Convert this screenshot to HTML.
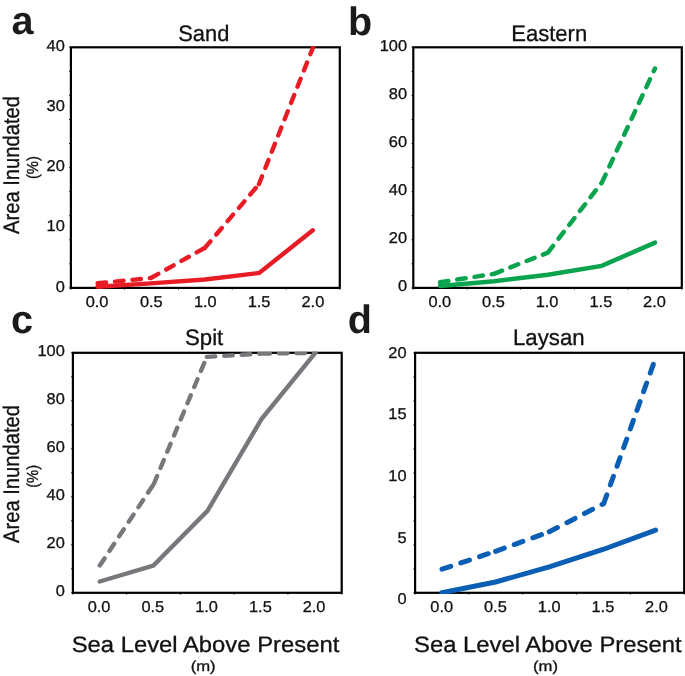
<!DOCTYPE html>
<html><head><meta charset="utf-8"><title>Area Inundated vs Sea Level</title>
<style>html,body{margin:0;padding:0;background:#fff;}svg{display:block;will-change:transform;transform:translateZ(0);}text{font-family:"Liberation Sans", sans-serif;fill:#111;stroke:#111;stroke-width:0.3px;text-rendering:geometricPrecision;}text.L{fill:#1c1a1b;stroke:none;}</style></head><body>
<svg width="685" height="676" viewBox="0 0 685 676">
<rect width="685" height="676" fill="#fff"/>
<rect x="70.9" y="47.3" width="268.9" height="240.6" fill="none" stroke="#000" stroke-width="2.2"/>
<path d="M70.9 47.3h-1.7M70.9 287.9v1.7M70.9 71.4h-1.7M70.9 95.4h-1.7M124.7 287.9v1.7M70.9 119.5h-1.7M70.9 143.5h-1.7M178.5 287.9v1.7M70.9 167.6h-1.7M70.9 191.7h-1.7M232.2 287.9v1.7M70.9 215.7h-1.7M70.9 239.8h-1.7M286.0 287.9v1.7M70.9 263.8h-1.7M70.9 287.9h-1.7M339.8 287.9v1.7" stroke="#000" stroke-width="1" fill="none"/>
<clipPath id="cp_a"><rect x="69.8" y="46.2" width="271.1" height="242.8"/></clipPath>
<g clip-path="url(#cp_a)">
<polyline points="97.6,286.7 150.9,283.4 204.9,279.5 259.2,273.0 312.8,230.3" fill="none" stroke="#E81C25" stroke-width="4.4" stroke-linecap="round" stroke-linejoin="miter"/>
<path d="M97.6 283.3L150.9 278.0M150.9 278.0L204.9 247.8M204.9 247.8L258.9 184.3M258.9 184.3L313.6 46.0" fill="none" stroke="#E81C25" stroke-width="4.4" stroke-linecap="round" stroke-dasharray="8.5 9.0"/>
</g>
<text transform="translate(64.8,50.8) scale(1.050,1)" font-size="15.6" text-anchor="end">40</text>
<text transform="translate(64.8,111.0) scale(1.050,1)" font-size="15.6" text-anchor="end">30</text>
<text transform="translate(64.8,171.1) scale(1.050,1)" font-size="15.6" text-anchor="end">20</text>
<text transform="translate(64.8,230.6) scale(1.050,1)" font-size="15.6" text-anchor="end">10</text>
<text transform="translate(64.8,291.9) scale(1.050,1)" font-size="15.6" text-anchor="end">0</text>
<text transform="translate(97.1,306.8) scale(1.050,1)" font-size="15.6" text-anchor="middle">0.0</text>
<text transform="translate(151.3,306.8) scale(1.050,1)" font-size="15.6" text-anchor="middle">0.5</text>
<text transform="translate(205.3,306.8) scale(1.050,1)" font-size="15.6" text-anchor="middle">1.0</text>
<text transform="translate(259.1,306.8) scale(1.050,1)" font-size="15.6" text-anchor="middle">1.5</text>
<text transform="translate(312.9,306.8) scale(1.050,1)" font-size="15.6" text-anchor="middle">2.0</text>
<text x="178.3" y="41.0" font-size="22.4" textLength="51.0" lengthAdjust="spacingAndGlyphs">Sand</text>
<text x="11.6" y="34.1" class="L" font-size="39.6" font-weight="bold">a</text>
<rect x="413.3" y="47.3" width="268.5" height="240.6" fill="none" stroke="#000" stroke-width="2.2"/>
<path d="M413.3 47.3h-1.7M413.3 287.9v1.7M413.3 71.4h-1.7M413.3 95.4h-1.7M467.0 287.9v1.7M413.3 119.5h-1.7M413.3 143.5h-1.7M520.7 287.9v1.7M413.3 167.6h-1.7M413.3 191.7h-1.7M574.4 287.9v1.7M413.3 215.7h-1.7M413.3 239.8h-1.7M628.1 287.9v1.7M413.3 263.8h-1.7M413.3 287.9h-1.7M681.8 287.9v1.7" stroke="#000" stroke-width="1" fill="none"/>
<clipPath id="cp_b"><rect x="412.2" y="46.2" width="270.7" height="242.8"/></clipPath>
<g clip-path="url(#cp_b)">
<polyline points="440.0,285.9 494.1,281.2 547.9,274.7 601.7,265.9 655.0,242.6" fill="none" stroke="#0BA44E" stroke-width="4.5" stroke-linecap="round" stroke-linejoin="miter"/>
<path d="M440.0 282.3L494.1 273.8M494.1 273.8L547.9 252.6M547.9 252.6L602.0 182.3M602.0 182.3L655.0 68.5" fill="none" stroke="#0BA44E" stroke-width="4.5" stroke-linecap="round" stroke-dasharray="8.5 9.0"/>
</g>
<text transform="translate(407.0,50.5) scale(1.050,1)" font-size="15.6" text-anchor="end">100</text>
<text transform="translate(407.0,98.6) scale(1.050,1)" font-size="15.6" text-anchor="end">80</text>
<text transform="translate(407.0,146.7) scale(1.050,1)" font-size="15.6" text-anchor="end">60</text>
<text transform="translate(407.0,194.9) scale(1.050,1)" font-size="15.6" text-anchor="end">40</text>
<text transform="translate(407.0,243.0) scale(1.050,1)" font-size="15.6" text-anchor="end">20</text>
<text transform="translate(407.0,291.1) scale(1.050,1)" font-size="15.6" text-anchor="end">0</text>
<text transform="translate(439.8,306.5) scale(1.050,1)" font-size="15.6" text-anchor="middle">0.0</text>
<text transform="translate(493.5,306.5) scale(1.050,1)" font-size="15.6" text-anchor="middle">0.5</text>
<text transform="translate(547.1,306.5) scale(1.050,1)" font-size="15.6" text-anchor="middle">1.0</text>
<text transform="translate(600.9,306.5) scale(1.050,1)" font-size="15.6" text-anchor="middle">1.5</text>
<text transform="translate(654.5,306.5) scale(1.050,1)" font-size="15.6" text-anchor="middle">2.0</text>
<text x="511.2" y="40.9" font-size="22.4" textLength="76.0" lengthAdjust="spacingAndGlyphs">Eastern</text>
<text x="347.9" y="34.5" class="L" font-size="39.6" font-weight="bold">b</text>
<rect x="72.9" y="352.8" width="268.8" height="240.0" fill="none" stroke="#000" stroke-width="2.2"/>
<path d="M72.9 352.8h-1.7M72.9 592.8v1.7M72.9 376.8h-1.7M72.9 400.8h-1.7M126.7 592.8v1.7M72.9 424.8h-1.7M72.9 448.8h-1.7M180.4 592.8v1.7M72.9 472.8h-1.7M72.9 496.8h-1.7M234.2 592.8v1.7M72.9 520.8h-1.7M72.9 544.8h-1.7M287.9 592.8v1.7M72.9 568.8h-1.7M72.9 592.8h-1.7M341.7 592.8v1.7" stroke="#000" stroke-width="1" fill="none"/>
<clipPath id="cp_c"><rect x="71.8" y="351.7" width="271.0" height="242.2"/></clipPath>
<g clip-path="url(#cp_c)">
<polyline points="99.8,581.5 153.4,565.5 207.5,510.8 261.5,419.1 315.3,352.8" fill="none" stroke="#77787B" stroke-width="4.4" stroke-linecap="round" stroke-linejoin="miter"/>
<path d="M99.8 565.5L153.8 484.0M153.8 484.0L206.8 356.9M206.8 356.9L261.5 353.6M261.5 353.6L315.3 352.8" fill="none" stroke="#77787B" stroke-width="4.4" stroke-linecap="round" stroke-dasharray="8.5 9.0"/>
</g>
<text transform="translate(64.8,356.3) scale(1.050,1)" font-size="15.6" text-anchor="end">100</text>
<text transform="translate(64.8,404.3) scale(1.050,1)" font-size="15.6" text-anchor="end">80</text>
<text transform="translate(64.8,452.3) scale(1.050,1)" font-size="15.6" text-anchor="end">60</text>
<text transform="translate(64.8,500.3) scale(1.050,1)" font-size="15.6" text-anchor="end">40</text>
<text transform="translate(64.8,548.3) scale(1.050,1)" font-size="15.6" text-anchor="end">20</text>
<text transform="translate(64.8,596.3) scale(1.050,1)" font-size="15.6" text-anchor="end">0</text>
<text transform="translate(99.1,611.9) scale(1.050,1)" font-size="15.6" text-anchor="middle">0.0</text>
<text transform="translate(152.8,611.9) scale(1.050,1)" font-size="15.6" text-anchor="middle">0.5</text>
<text transform="translate(206.6,611.9) scale(1.050,1)" font-size="15.6" text-anchor="middle">1.0</text>
<text transform="translate(260.4,611.9) scale(1.050,1)" font-size="15.6" text-anchor="middle">1.5</text>
<text transform="translate(314.1,611.9) scale(1.050,1)" font-size="15.6" text-anchor="middle">2.0</text>
<text x="185.0" y="344.7" font-size="22.4" textLength="38.3" lengthAdjust="spacingAndGlyphs">Spit</text>
<text x="10.9" y="332.8" class="L" font-size="39.6" font-weight="bold">c</text>
<rect x="415.1" y="352.8" width="269.1" height="240.0" fill="none" stroke="#000" stroke-width="2.2"/>
<path d="M415.1 352.8h-1.7M415.1 592.8v1.7M415.1 376.8h-1.7M415.1 400.8h-1.7M468.9 592.8v1.7M415.1 424.8h-1.7M415.1 448.8h-1.7M522.7 592.8v1.7M415.1 472.8h-1.7M415.1 496.8h-1.7M576.6 592.8v1.7M415.1 520.8h-1.7M415.1 544.8h-1.7M630.4 592.8v1.7M415.1 568.8h-1.7M415.1 592.8h-1.7M684.2 592.8v1.7" stroke="#000" stroke-width="1" fill="none"/>
<clipPath id="cp_d"><rect x="414.0" y="351.7" width="271.3" height="242.2"/></clipPath>
<g clip-path="url(#cp_d)">
<polyline points="441.9,592.7 495.6,582.0 549.3,566.8 603.0,549.5 655.6,530.2" fill="none" stroke="#0A5EB3" stroke-width="5.0" stroke-linecap="round" stroke-linejoin="miter"/>
<path d="M442.0 569.2L495.6 551.3M495.6 551.3L549.3 531.8M549.3 531.8L603.7 503.6M603.7 503.6L656.3 356.0" fill="none" stroke="#0A5EB3" stroke-width="5.0" stroke-linecap="round" stroke-dasharray="9.2 10.6"/>
</g>
<text transform="translate(406.5,358.2) scale(1.050,1)" font-size="15.6" text-anchor="end">20</text>
<text transform="translate(406.5,419.3) scale(1.050,1)" font-size="15.6" text-anchor="end">15</text>
<text transform="translate(406.5,480.7) scale(1.050,1)" font-size="15.6" text-anchor="end">10</text>
<text transform="translate(406.5,542.5) scale(1.050,1)" font-size="15.6" text-anchor="end">5</text>
<text transform="translate(406.5,604.4) scale(1.050,1)" font-size="15.6" text-anchor="end">0</text>
<text transform="translate(441.7,611.9) scale(1.050,1)" font-size="15.6" text-anchor="middle">0.0</text>
<text transform="translate(495.4,611.9) scale(1.050,1)" font-size="15.6" text-anchor="middle">0.5</text>
<text transform="translate(549.2,611.9) scale(1.050,1)" font-size="15.6" text-anchor="middle">1.0</text>
<text transform="translate(602.9,611.9) scale(1.050,1)" font-size="15.6" text-anchor="middle">1.5</text>
<text transform="translate(656.5,611.9) scale(1.050,1)" font-size="15.6" text-anchor="middle">2.0</text>
<text x="513.0" y="344.7" font-size="22.4" textLength="71.6" lengthAdjust="spacingAndGlyphs">Laysan</text>
<text x="347.8" y="332.6" class="L" font-size="39.6" font-weight="bold">d</text>
<text transform="translate(18.7,165.0) rotate(-90)" font-size="22.5" x="-69" textLength="138" lengthAdjust="spacingAndGlyphs">Area Inundated</text>
<text transform="translate(37.9,167.6) rotate(-90)" font-size="16" x="-11.5" textLength="23" lengthAdjust="spacingAndGlyphs">(%)</text>
<text transform="translate(18.7,474.0) rotate(-90)" font-size="22.5" x="-69" textLength="138" lengthAdjust="spacingAndGlyphs">Area Inundated</text>
<text transform="translate(37.9,476.3) rotate(-90)" font-size="16" x="-11.5" textLength="23" lengthAdjust="spacingAndGlyphs">(%)</text>
<text x="71.7" y="652.3" font-size="22.3" textLength="267.6" lengthAdjust="spacingAndGlyphs">Sea Level Above Present</text>
<text x="190.7" y="670.5" font-size="14.5" textLength="25" lengthAdjust="spacingAndGlyphs">(m)</text>
<text x="414.0" y="652.3" font-size="22.3" textLength="267.6" lengthAdjust="spacingAndGlyphs">Sea Level Above Present</text>
<text x="533.0" y="670.5" font-size="14.5" textLength="25" lengthAdjust="spacingAndGlyphs">(m)</text>
</svg></body></html>
